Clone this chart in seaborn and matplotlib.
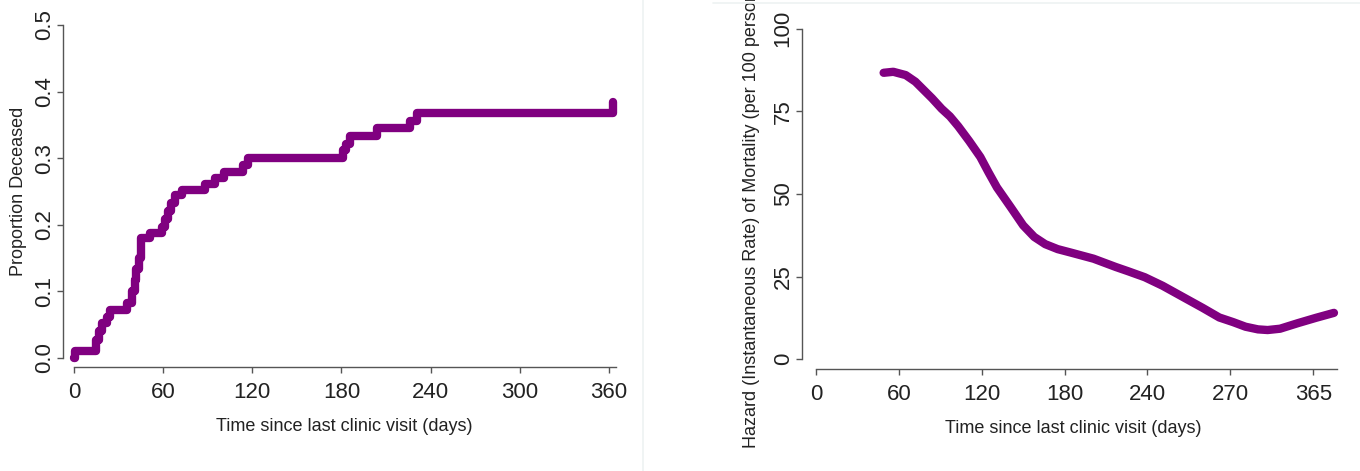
import matplotlib
matplotlib.use('Agg')
import matplotlib.pyplot as plt
from matplotlib.lines import Line2D
import seaborn as sns
import pandas as pd

# Cumulative mortality (Kaplan-Meier style steps)
km_days = [0, 1, 15, 17, 19, 22, 24, 36, 39, 41, 42, 44, 45, 51, 59, 61, 63, 65,
           68, 73, 88, 95, 101, 114, 117, 181, 183, 186, 204, 226, 231, 363]
km_prop = [0.0, 0.010, 0.027, 0.040, 0.052, 0.062, 0.072, 0.082, 0.100, 0.117,
           0.133, 0.150, 0.180, 0.188, 0.197, 0.208, 0.220, 0.232, 0.244, 0.252,
           0.262, 0.271, 0.280, 0.290, 0.300, 0.312, 0.322, 0.333, 0.345, 0.356,
           0.368, 0.385]

# Smoothed hazard
hz_days = [49, 56, 65, 72, 78, 84, 91, 97, 103, 111, 119, 125, 131, 141, 150, 158,
           166, 175, 185, 201, 217, 226, 238, 251, 267, 280, 292, 302, 311, 320,
           327, 336, 349, 362, 375]
hz_rate = [86.7, 87.0, 86.0, 84.0, 81.5, 79.0, 75.8, 73.5, 70.5, 66.0, 61.2, 56.5,
           52.0, 46.0, 40.5, 37.0, 34.8, 33.3, 32.2, 30.4, 27.9, 26.6, 24.8, 22.2,
           18.5, 15.5, 12.6, 11.2, 9.8, 9.0, 8.8, 9.2, 10.9, 12.5, 14.0]

left_xticks = [0, 60, 120, 180, 240, 300, 360]
left_yticks = [0.0, 0.1, 0.2, 0.3, 0.4, 0.5]
right_xticks = [0, 60, 120, 180, 240, 300, 360]
right_xlabels = ['0', '60', '120', '180', '240', '270', '365']
right_yticks = [0, 25, 50, 75, 100]

km = pd.DataFrame({'days': km_days, 'prop': km_prop})
hz = pd.DataFrame({'days': hz_days, 'rate': hz_rate})

sns.set_style('white')
plt.rcParams['font.family'] = ['Liberation Sans', 'DejaVu Sans']

W, H = 1360, 471
fig = plt.figure(figsize=(W / 100, H / 100), dpi=100)

def box(l, t, r, b):
    return [l / W, (H - b) / H, (r - l) / W, (b - t) / H]

purple = '#800080'
axis_col = '#555555'
text_col = '#222222'

ax1 = fig.add_axes(box(63, 15, 625, 367))
ax2 = fig.add_axes(box(802, 15, 1345, 369))

sns.lineplot(data=km, x='days', y='prop', ax=ax1, color=purple, linewidth=6.0,
             drawstyle='steps-post', estimator=None, sort=False,
             solid_capstyle='round', solid_joinstyle='round')
sns.lineplot(data=hz, x='days', y='rate', ax=ax2, color=purple, linewidth=6.0,
             estimator=None, sort=False,
             solid_capstyle='round', solid_joinstyle='round')

ax1.set_xlim(-7.4, 370.8)
ax1.set_ylim(-0.0135, 0.515)
ax2.set_xlim(-10.1, 383)
ax2.set_ylim(-3.0, 104.2)

ax1.set_xticks(left_xticks)
ax1.set_yticks(left_yticks)
ax1.set_yticklabels([f'{v:.1f}' for v in left_yticks], rotation=90, va='center')
ax2.set_xticks(right_xticks)
ax2.set_xticklabels(right_xlabels)
ax2.set_yticks(right_yticks)
ax2.set_yticklabels([str(v) for v in right_yticks], rotation=90, va='center')

for ax, xb, yb in [(ax1, (0, 365), (0, 0.5)), (ax2, (0, 377), (0, 100))]:
    for s in ['top', 'right']:
        ax.spines[s].set_visible(False)
    for s in ['left', 'bottom']:
        ax.spines[s].set_color(axis_col)
        ax.spines[s].set_linewidth(1.0)
    ax.spines['bottom'].set_bounds(*xb)
    ax.spines['left'].set_bounds(*yb)
    ax.tick_params(axis='both', direction='out', length=4.5, width=1.0,
                   color=axis_col, labelsize=16, labelcolor=text_col,
                   bottom=True, left=True)
    ax.tick_params(axis='x', pad=6)
    ax.tick_params(axis='y', pad=1.5)
    ax.set_xlabel('Time since last clinic visit (days)', fontsize=13,
                  color=text_col, labelpad=11)

ax1.set_ylabel('Proportion Deceased', fontsize=13, color=text_col)
ax1.yaxis.set_label_coords((27 - 63) / 562, 0.5)
ax2.set_ylabel('Hazard (Instantaneous Rate) of Mortality (per 100 person-years)',
               fontsize=13, color=text_col)
ax2.yaxis.set_label_coords((760 - 802) / 543, 0.5)

# faint panel separators from the original screenshot
fig.add_artist(Line2D([643 / W, 643 / W], [0, 1], color='#eef2f2', lw=1.2))
fig.add_artist(Line2D([713 / W, 1], [1 - 3 / H, 1 - 3 / H], color='#eef2f2', lw=1.2))

fig.savefig('out.png', dpi=100)
